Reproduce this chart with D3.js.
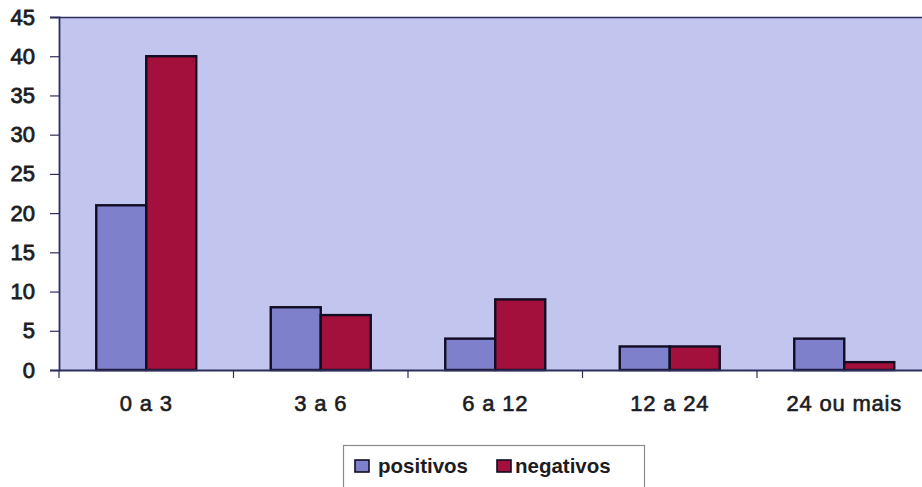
<!DOCTYPE html>
<html>
<head>
<meta charset="utf-8">
<script src="https://cdn.jsdelivr.net/npm/d3@7/dist/d3.min.js"></script>
<style>
  html, body { margin: 0; padding: 0; background: #ffffff; }
  svg { display: block; }
  text { font-family: "Liberation Sans", Arial, sans-serif; }
</style>
</head>
<body>
<svg id="chart" width="922" height="487"></svg>
<script>
// Time ranges (months) and counts per outcome
const categories = ["0 a 3", "3 a 6", "6 a 12", "12 a 24", "24 ou mais"];
const seriesNames = ["positivos", "negativos"];
const positivos = [21, 8, 4, 3, 4];
const negativos = [40, 7, 9, 3, 1];
const yTicks = [0, 5, 10, 15, 20, 25, 30, 35, 40, 45];

const colors = { positivos: "#7f80cc", negativos: "#a4103c" };
const plotBg = "#c2c6ee";
const axisColor = "#2e2e5e";
const textColor = "#1c1c22";

const svg = d3.select("#chart");
const plot = { left: 59, top: 17, right: 931.5, bottom: 370 };

const x = d3.scaleBand()
  .domain(categories)
  .range([plot.left, plot.right])
  .paddingInner(0)
  .paddingOuter(0);

const xInner = d3.scaleBand()
  .domain(seriesNames)
  .range([0, x.bandwidth()])
  .paddingInner(0)
  .paddingOuter(0.745);

const y = d3.scaleLinear()
  .domain([0, 45])
  .range([plot.bottom, plot.top]);

// plot area background
svg.append("rect")
  .attr("x", plot.left)
  .attr("y", plot.top)
  .attr("width", plot.right - plot.left)
  .attr("height", plot.bottom - plot.top)
  .attr("fill", plotBg);

// top border of the plot area
svg.append("line")
  .attr("x1", plot.left).attr("x2", plot.right)
  .attr("y1", plot.top + 0.5).attr("y2", plot.top + 0.5)
  .attr("stroke", axisColor).attr("stroke-width", 1.5);

// bars
const rows = categories.map((c, i) => ({
  cat: c,
  values: [
    { key: "positivos", value: positivos[i] },
    { key: "negativos", value: negativos[i] }
  ]
}));

const groups = svg.append("g").selectAll("g")
  .data(rows)
  .join("g")
  .attr("transform", d => `translate(${x(d.cat)},0)`);

groups.selectAll("rect")
  .data(d => d.values)
  .join("rect")
  .attr("x", d => xInner(d.key))
  .attr("y", d => y(d.value))
  .attr("width", xInner.bandwidth())
  .attr("height", d => y(0) - y(d.value))
  .attr("fill", d => colors[d.key])
  .attr("stroke", "#120c22")
  .attr("stroke-width", 2.4);

// y axis
const yAxis = d3.axisLeft(y)
  .tickValues(yTicks)
  .tickSize(9)
  .tickPadding(15)
  .tickFormat(d3.format("d"));

const gy = svg.append("g")
  .attr("transform", `translate(${plot.left},0)`)
  .call(yAxis);
gy.select(".domain").attr("stroke", axisColor).attr("stroke-width", 1.8);
gy.selectAll(".tick line").attr("stroke", axisColor).attr("stroke-width", 1.2);
gy.selectAll(".tick text")
  .attr("font-size", 22)
  .attr("fill", textColor)
  .attr("stroke", textColor)
  .attr("stroke-width", 0.8)
  .style("font-family", "'Liberation Sans', Arial, sans-serif");

// x axis
const xAxis = d3.axisBottom(x)
  .tickSize(0)
  .tickPadding(0)
  .tickFormat(d => d);

const gx = svg.append("g")
  .attr("transform", `translate(0,${plot.bottom})`)
  .call(xAxis);
gx.select(".domain").attr("stroke", axisColor).attr("stroke-width", 1.8);
gx.selectAll(".tick text")
  .attr("y", 41)
  .attr("dy", 0)
  .attr("font-size", 22)
  .attr("letter-spacing", 0.8)
  .attr("fill", textColor)
  .attr("stroke", textColor)
  .attr("stroke-width", 0.6)
  .style("font-family", "'Liberation Sans', Arial, sans-serif");

// category boundary ticks below the axis
const boundaries = categories.map(c => x(c)).concat([x.range()[1]]);
svg.append("g").selectAll("line")
  .data(boundaries)
  .join("line")
  .attr("x1", d => d).attr("x2", d => d)
  .attr("y1", plot.bottom).attr("y2", plot.bottom + 8)
  .attr("stroke", axisColor)
  .attr("stroke-width", 1.2);

// legend
const legend = svg.append("g");
legend.append("rect")
  .attr("x", 343.5).attr("y", 445.5)
  .attr("width", 301).attr("height", 50)
  .attr("fill", "#ffffff")
  .attr("stroke", "#8a8a90")
  .attr("stroke-width", 1.2);

const legendItems = [
  { key: "positivos", sx: 355, tx: 378 },
  { key: "negativos", sx: 497, tx: 515 }
];

legendItems.forEach(item => {
  legend.append("rect")
    .attr("x", item.sx).attr("y", 460)
    .attr("width", 14).attr("height", 12)
    .attr("fill", colors[item.key])
    .attr("stroke", "#120c22")
    .attr("stroke-width", 1.6);
  legend.append("text")
    .attr("x", item.tx).attr("y", 473)
    .attr("font-size", 20.5)
    .attr("font-weight", "bold")
    .attr("fill", textColor)
    .text(item.key);
});
</script>
</body>
</html>
